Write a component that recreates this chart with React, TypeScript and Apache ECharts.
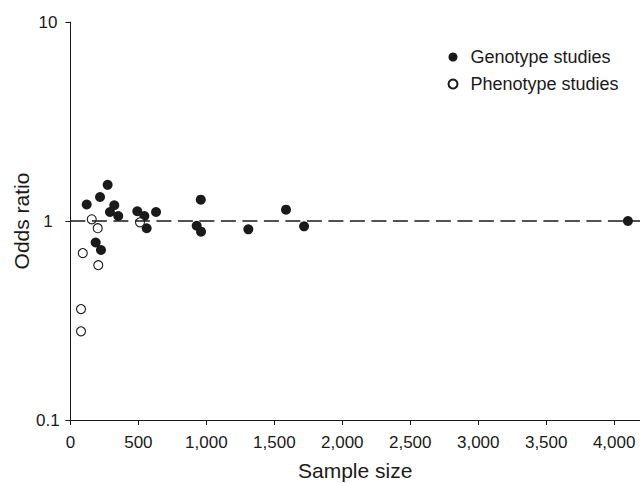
import React, { useEffect, useRef } from "react";
import * as echarts from "echarts";

const genotypeSampleSize = [120, 218, 274, 323, 291, 352, 186, 225, 492, 544, 561, 630, 959, 929, 961, 1309, 1586, 1719, 4101];
const genotypeOddsRatio = [1.21, 1.32, 1.52, 1.2, 1.11, 1.06, 0.78, 0.715, 1.12, 1.06, 0.92, 1.11, 1.28, 0.947, 0.884, 0.908, 1.14, 0.94, 1.0];
const phenotypeSampleSize = [157, 201, 91, 205, 512, 78, 78];
const phenotypeOddsRatio = [1.02, 0.92, 0.69, 0.6, 0.985, 0.361, 0.279];
const xTickValues = [0, 500, 1000, 1500, 2000, 2500, 3000, 3500, 4000];
const seriesNames = ["Genotype studies", "Phenotype studies"];

const FONT = "'Liberation Sans', Arial, Helvetica, sans-serif";
const INK = "#1a1a1a";

export default function App() {
  const ref = useRef<HTMLDivElement>(null);
  useEffect(() => {
    document.body.style.margin = "0";
    if (!ref.current) return;
    const chart = echarts.init(ref.current, null, { renderer: "svg" });
    const geno = genotypeSampleSize.map((x, i) => [x, genotypeOddsRatio[i]]);
    const pheno = phenotypeSampleSize.map((x, i) => [x, phenotypeOddsRatio[i]]);
    chart.setOption({
      animation: false,
      backgroundColor: "#ffffff",
      textStyle: { fontFamily: FONT, color: INK },
      grid: { left: 70.4, right: 0, top: 22, bottom: 63, containLabel: false, outerBoundsMode: "none" },
      legend: {
        data: seriesNames,
        orient: "vertical",
        left: 442.5,
        top: 43,
        itemWidth: 25,
        itemHeight: 9,
        itemGap: 9,
        textStyle: { fontFamily: FONT, fontSize: 18, color: INK },
      },
      xAxis: {
        type: "value",
        min: 0,
        max: 4190,
        interval: 500,
        name: "Sample size",
        nameLocation: "middle",
        nameGap: 40,
        nameMoveOverlap: false,
        nameTextStyle: { fontFamily: FONT, fontSize: 21, color: INK },
        splitLine: { show: false },
        axisLine: { lineStyle: { color: INK, width: 1 } },
        axisTick: { show: true, length: 5, customValues: xTickValues, lineStyle: { color: INK } },
        axisLabel: {
          customValues: xTickValues,
          fontFamily: FONT,
          fontSize: 17,
          color: INK,
          margin: 14,
          formatter: (v: number) => v.toLocaleString("en-US"),
        },
      },
      yAxis: {
        type: "log",
        logBase: 10,
        min: 0.1,
        max: 10,
        name: "Odds ratio",
        nameLocation: "middle",
        nameRotate: 90,
        nameGap: 38,
        nameMoveOverlap: false,
        nameTextStyle: { fontFamily: FONT, fontSize: 21, color: INK },
        splitLine: { show: false },
        minorTick: { show: false },
        axisLine: { show: true, lineStyle: { color: INK, width: 1 } },
        axisTick: { show: true, length: 5, lineStyle: { color: INK } },
        axisLabel: {
          fontFamily: FONT,
          fontSize: 17,
          color: INK,
          align: "center",
          margin: 22.5,
          formatter: (v: number) => String(Number(v.toPrecision(3))),
        },
      },
      series: [
        {
          name: seriesNames[0],
          type: "scatter",
          data: geno,
          symbol: "circle",
          symbolSize: 10,
          itemStyle: { color: INK, borderColor: INK, borderWidth: 0, opacity: 1 },
          z: 3,
          markLine: {
            silent: true,
            symbol: "none",
            label: { show: false },
            lineStyle: { color: INK, width: 1.5, type: [15, 6.5] },
            data: [{ yAxis: 1 }],
          },
        },
        {
          name: seriesNames[1],
          type: "scatter",
          data: pheno,
          symbol: "circle",
          symbolSize: 9,
          itemStyle: { color: "#ffffff", borderColor: INK, borderWidth: 1.1, opacity: 1 },
          z: 4,
        },
      ],
    });
    return () => chart.dispose();
  }, []);
  return <div ref={ref} style={{ width: 640, height: 483 }} />;
}
